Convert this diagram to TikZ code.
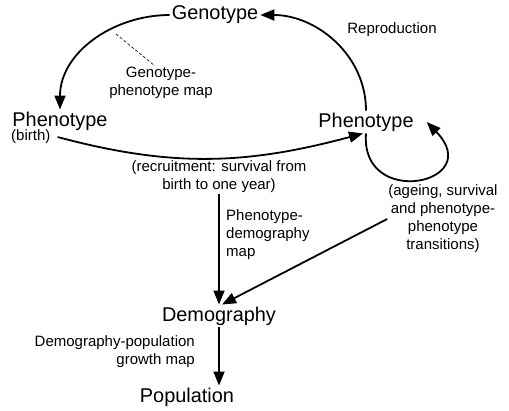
\documentclass[tikz,border=0pt]{standalone}
\usepackage{fontspec}
\setmainfont{Liberation Sans}
\usetikzlibrary{arrows.meta}

\begin{document}
\begin{tikzpicture}[x=1pt, y=-1pt,
    big/.style={font=\fontsize{19.9}{22}\selectfont, inner sep=2pt},
    small/.style={font=\fontsize{15}{18}\selectfont, inner sep=1pt, align=center},
    arr/.style={-{Triangle[length=14pt,width=11pt]}, line width=1.8pt}]

	\useasboundingbox (0,0) rectangle (509,410);

	\node[big] (geno) at (215,15) {Genotype};
	\node[big] (phenoB) at (60,121) {Phenotype};
	\node[small, anchor=west] (birth) at (10,137) {(birth)};
	\node[big] (phenoA) at (366,122) {Phenotype};
	\node[big] (demo) at (219,316) {Demography};
	\node[big] (pop) at (187,397) {Population};

	\node[small] (repro) at (392,30) {Reproduction};
	\node[small] (gpmap) at (161,83) {Genotype-\\phenotype map};
	\node[small] (recruit) at (219,177) {(recruitment: survival from\\birth to one year)};
	\node[small] (ageing) at (443,219) {(ageing, survival\\and phenotype-\\phenotype\\transitions)};
	\node[small, align=left, anchor=west] (pdmap) at (225,235) {Phenotype-\\demography\\map};
	\node[small, align=right, anchor=east] (dpmap) at (196,352) {Demography-population\\growth map};

	%%%%%%%%%%%%%%%%%%%%%%%%%%%%%%%%%%%%%%%%%%%%%%%%%%%%%%%%%%%%%%%%%%%%%

	\draw [arr] (geno.west) to[out=180, in=90] (phenoB.north);
	\draw [arr] (phenoA.north) to[out=90, in=0] (geno.east);
	\draw [arr] ([xshift=6pt]birth.east) to[out=-15, in=195] ([xshift=-3pt]phenoA.south);
	\draw [arr] (phenoA.south) .. controls +(-6,76) and +(60,62) .. ([xshift=11pt]phenoA.east);

	\draw [arr] (recruit.south) -- (demo.north);
	\draw [arr] (ageing.west) -- ([xshift=3pt]demo.north);
	\draw [arr] (demo.south) -- (demo.south |- pop.north);

	\coordinate (gpdot) at (116,34);
	\draw [densely dashed, line width=0.6pt] (gpdot) -- ([xshift=-6pt]gpmap.north);

\end{tikzpicture}
\end{document}
